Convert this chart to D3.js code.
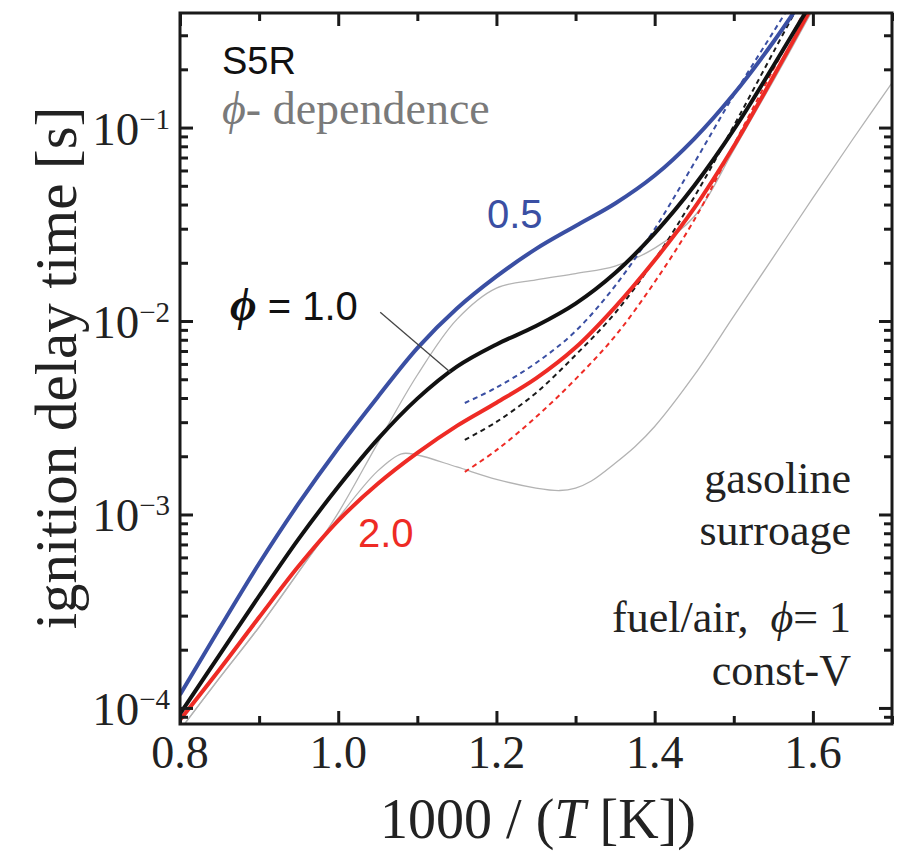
<!DOCTYPE html>
<html>
<head>
<meta charset="utf-8">
<script src="https://cdn.jsdelivr.net/npm/d3@7"></script>
<style>
  body { margin: 0; background: #fff; }
  .serif { font-family: "Liberation Serif", "Times New Roman", serif; }
  .sans { font-family: "Liberation Sans", Arial, sans-serif; }
</style>
</head>
<body>
<svg id="chart"></svg>
<script>
// 1000/T grid for the solid curves
var xSolid = [0.80,0.85,0.90,0.95,1.00,1.05,1.10,1.15,1.20,1.25,1.30,1.35,1.40,1.45,1.50,1.55,1.60]
// ignition delay [s], phi = 0.5 / 1.0 / 2.0
var tauPhi05 = [1.17e-4,2.58e-4,5.58e-4,1.14e-3,2.20e-3,4.05e-3,7.24e-3,1.16e-2,1.70e-2,2.36e-2,3.10e-2,4.05e-2,5.65e-2,8.75e-2,0.149,0.277,0.552]
var tauPhi10 = [9.31e-5,1.88e-4,3.79e-4,7.48e-4,1.39e-3,2.45e-3,3.97e-3,5.81e-3,7.57e-3,9.42e-3,1.23e-2,1.77e-2,2.84e-2,5.00e-2,9.75e-2,0.208,0.456]
var tauPhi20 = [8.67e-5,1.58e-4,2.94e-4,5.41e-4,9.29e-4,1.44e-3,2.08e-3,2.87e-3,3.78e-3,5.05e-3,7.29e-3,1.18e-2,2.06e-2,3.83e-2,8.00e-2,0.183,0.430]

// dashed curves start at lower temperature
var xDashed = [1.16,1.20,1.25,1.30,1.35,1.40,1.45,1.50,1.55,1.60]
var tauDash05 = [3.77e-3,4.53e-3,6.07e-3,8.87e-3,1.52e-2,2.99e-2,6.56e-2,0.147,0.312,0.66]
var tauDash10 = [2.43e-3,3.01e-3,4.25e-3,6.67e-3,1.10e-2,2.07e-2,4.37e-2,0.102,0.245,0.589]
var tauDash20 = [1.66e-3,2.15e-3,3.19e-3,5.01e-3,8.36e-3,1.59e-2,3.33e-2,8.13e-2,0.20,0.48]

// thin gray reference curves
var xGrayA = [0.80,0.85,0.90,0.95,1.00,1.05,1.10,1.15,1.20,1.25,1.30,1.35,1.40,1.45,1.50,1.55,1.60]
var tauGrayA = [7.69e-5,1.43e-4,2.62e-4,5.05e-4,1.02e-3,2.34e-3,5.26e-3,1.02e-2,1.48e-2,1.63e-2,1.76e-2,1.92e-2,2.38e-2,3.47e-2,7.66e-2,0.174,0.407]
var xGrayB = [0.80,0.85,0.90,0.95,1.00,1.05,1.08,1.10,1.15,1.20,1.25,1.28,1.30,1.32,1.35,1.375,1.40,1.45,1.50,1.55,1.60,1.65,1.70]
var tauGrayB = [7.69e-5,1.43e-4,2.62e-4,5.05e-4,9.59e-4,1.68e-3,2.06e-3,2.03e-3,1.76e-3,1.52e-3,1.37e-3,1.33e-3,1.37e-3,1.49e-3,1.84e-3,2.24e-3,2.85e-3,5.25e-3,1.06e-2,2.14e-2,4.33e-2,8.65e-2,0.170]

// ticks
var xMajorTicks = [0.8,1.0,1.2,1.4,1.6]
var xMinorTicks = [0.9,1.1,1.3,1.5,1.7]
var yDecades = [-4,-3,-2,-1]

var zip = function(xs, ys)
{
    return xs.map(function(x,i){ return {x:x, y:ys[i]} })
}

var initGraph = function()
{
    var screen = {width:905,height:858}
    var margins = {left:180,right:13,top:13,bottom:134}
    var graph = {
        width:screen.width-margins.left-margins.right,
        height:screen.height-margins.top-margins.bottom
    }

    var svg = d3.select("#chart")
        .attr("width",screen.width)
        .attr("height",screen.height)

    var xScale = d3.scaleLinear()
        .domain([0.8,1.7])
        .range([0,graph.width])

    var yScale = d3.scaleLog()
        .domain([8.26e-5,0.391])
        .range([graph.height,0])

    svg.append("defs").append("clipPath")
        .attr("id","plotclip")
        .append("rect")
        .attr("width",graph.width)
        .attr("height",graph.height)

    var target = svg.append("g")
        .attr("transform","translate("+margins.left+","+margins.top+")")

    var plot = target.append("g").attr("clip-path","url(#plotclip)")

    var line = d3.line()
        .x(function(d){ return xScale(d.x) })
        .y(function(d){ return yScale(d.y) })
        .curve(d3.curveCatmullRom.alpha(0.5))

    var series = [
        {pts:zip(xGrayB,tauGrayB), color:"#b3b3b3", w:1.3, dash:null},
        {pts:zip(xGrayA,tauGrayA), color:"#b3b3b3", w:1.3, dash:null},
        {pts:zip(xDashed,tauDash05), color:"#3a4fa3", w:2, dash:"5,4"},
        {pts:zip(xDashed,tauDash10), color:"#1a1a1a", w:2, dash:"5,4"},
        {pts:zip(xDashed,tauDash20), color:"#ee2b25", w:2, dash:"5,4"},
        {pts:zip(xSolid,tauPhi20), color:"#ee2b25", w:4, dash:null},
        {pts:zip(xSolid,tauPhi10), color:"#111111", w:4, dash:null},
        {pts:zip(xSolid,tauPhi05), color:"#3a4fa3", w:4, dash:null}
    ]

    plot.selectAll("path.curve")
        .data(series)
        .enter()
        .append("path")
        .attr("class","curve")
        .attr("d",function(s){ return line(s.pts) })
        .attr("fill","none")
        .attr("stroke",function(s){ return s.color })
        .attr("stroke-width",function(s){ return s.w })
        .attr("stroke-dasharray",function(s){ return s.dash })

    // leader line for the phi = 1.0 label
    target.append("line")
        .attr("x1",xScale(1.0)+42).attr("y1",yScale(1.11e-2))
        .attr("x2",xScale(1.1418)).attr("y2",yScale(5.44e-3))
        .attr("stroke","#444").attr("stroke-width",1.3)

    // minor log ticks
    var yMinor = []
    yDecades.concat([-5,0]).forEach(function(e)
    {
        for (var k=2;k<=9;k++)
        {
            var v = k*Math.pow(10,e)
            if (v>yScale.domain()[0] && v<yScale.domain()[1]) yMinor.push(v)
        }
    })
    var yMajor = yDecades.map(function(e){ return Math.pow(10,e) })

    var axisStyle = function(g)
    {
        g.select(".domain").remove()
        g.selectAll("line").attr("stroke","#1a1a1a").attr("stroke-width",3)
        g.selectAll("text").remove()
    }

    target.append("g").call(d3.axisLeft(yScale).tickValues(yMajor).tickSize(-13)).call(axisStyle)
    target.append("g").call(d3.axisLeft(yScale).tickValues(yMinor).tickSize(-8)).call(axisStyle)
    target.append("g").attr("transform","translate("+graph.width+",0)")
        .call(d3.axisRight(yScale).tickValues(yMajor).tickSize(-13)).call(axisStyle)
    target.append("g").attr("transform","translate("+graph.width+",0)")
        .call(d3.axisRight(yScale).tickValues(yMinor).tickSize(-8)).call(axisStyle)
    target.append("g").attr("transform","translate(0,"+graph.height+")")
        .call(d3.axisBottom(xScale).tickValues(xMajorTicks).tickSize(-13)).call(axisStyle)
    target.append("g").attr("transform","translate(0,"+graph.height+")")
        .call(d3.axisBottom(xScale).tickValues(xMinorTicks).tickSize(-8)).call(axisStyle)
    target.append("g")
        .call(d3.axisTop(xScale).tickValues(xMajorTicks).tickSize(-13)).call(axisStyle)
    target.append("g")
        .call(d3.axisTop(xScale).tickValues(xMinorTicks).tickSize(-8)).call(axisStyle)

    // frame
    target.append("rect")
        .attr("width",graph.width).attr("height",graph.height)
        .attr("fill","none").attr("stroke","#1a1a1a").attr("stroke-width",3)

    // tick labels
    target.selectAll("text.xtick")
        .data(xMajorTicks)
        .enter()
        .append("text")
        .attr("class","xtick serif")
        .attr("x",function(d){ return xScale(d) })
        .attr("y",graph.height+44)
        .attr("text-anchor","middle")
        .attr("font-size",46)
        .attr("fill","#222")
        .text(function(d){ return d.toFixed(1) })

    var ylab = target.selectAll("text.ytick")
        .data(yDecades)
        .enter()
        .append("text")
        .attr("class","ytick serif")
        .attr("x",-10)
        .attr("y",function(d){ return yScale(Math.pow(10,d))+17 })
        .attr("text-anchor","end")
        .attr("fill","#222")
    ylab.append("tspan").attr("font-size",47).text("10")
    ylab.append("tspan").attr("font-size",29).attr("dy",-16)
        .text(function(d){ return "\u2212"+(-d) })

    // axis titles
    var xt = svg.append("text")
        .attr("class","serif")
        .attr("x",margins.left+graph.width/2+2)
        .attr("y",838)
        .attr("text-anchor","middle")
        .attr("font-size",56)
        .attr("fill","#222")
    xt.append("tspan").text("1000 / (")
    xt.append("tspan").attr("font-style","italic").text("T")
    xt.append("tspan").text(" [K])")

    svg.append("g")
        .attr("transform","translate(76,368)")
        .append("text")
        .attr("class","serif")
        .attr("transform","rotate(-90)")
        .attr("text-anchor","middle")
        .attr("font-size",59)
        .attr("fill","#222")
        .text("ignition delay time [s]")

    // annotations
    svg.append("text").attr("class","sans")
        .attr("x",222).attr("y",74).attr("font-size",38).attr("fill","#111")
        .text("S5R")

    var dep = svg.append("text").attr("class","serif")
        .attr("x",222).attr("y",124).attr("font-size",46).attr("fill","#7a7a7a")
    dep.append("tspan").attr("font-style","italic").text("\u03D5")
    dep.append("tspan").text("- dependence")

    svg.append("text").attr("class","sans")
        .attr("x",487).attr("y",228).attr("font-size",40).attr("fill","#3a4fa3")
        .text("0.5")

    var p1 = svg.append("text")
        .attr("x",230).attr("y",320).attr("fill","#111")
    p1.append("tspan").attr("class","serif").attr("font-size",46)
        .attr("font-style","italic").attr("font-weight","bold").text("\u03D5")
    p1.append("tspan").attr("class","sans").attr("font-size",40).text(" = 1.0")

    svg.append("text").attr("class","sans")
        .attr("x",358).attr("y",547).attr("font-size",40).attr("fill","#ee2b25")
        .text("2.0")

    var notes = [
        {y:493, parts:[["gasoline",null]]},
        {y:545, parts:[["surroage",null]]},
        {y:632, parts:[["fuel/air,  ",null],["\u03D5","italic"],["= 1",null]]},
        {y:685, parts:[["const-V",null]]}
    ]
    notes.forEach(function(n)
    {
        var t = svg.append("text").attr("class","serif")
            .attr("x",851).attr("y",n.y).attr("text-anchor","end")
            .attr("font-size",44).attr("fill","#222")
            .attr("xml:space","preserve")
        n.parts.forEach(function(p)
        {
            t.append("tspan").attr("font-style",p[1]).text(p[0])
        })
    })
}

initGraph()
</script>
</body>
</html>
